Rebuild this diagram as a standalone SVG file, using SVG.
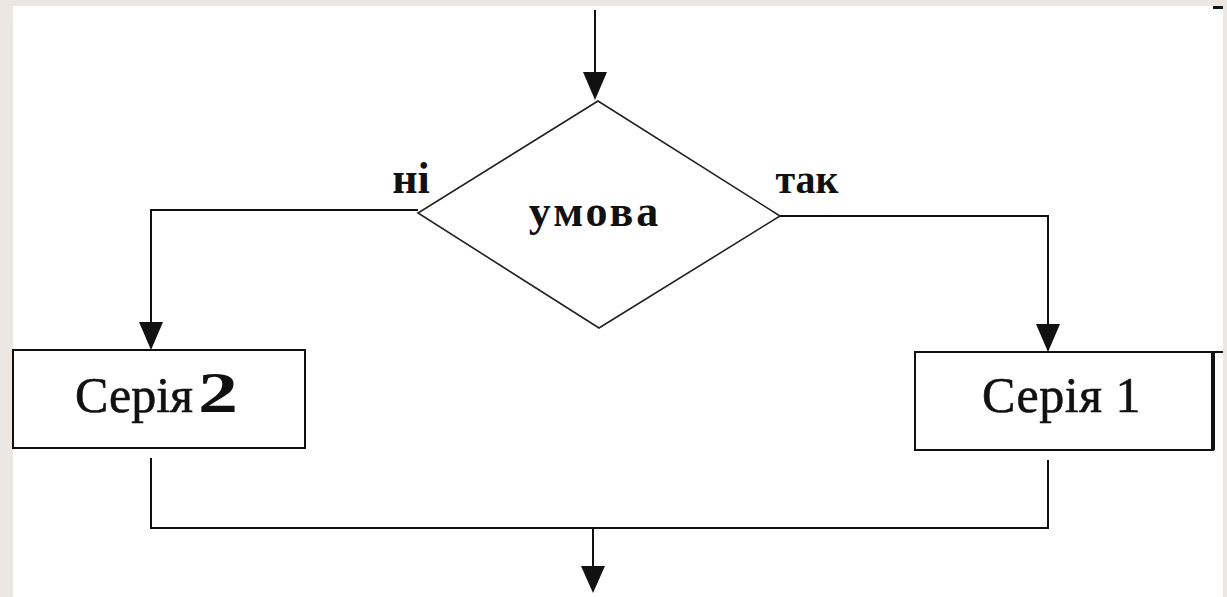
<svg xmlns="http://www.w3.org/2000/svg" width="1227" height="597" viewBox="0 0 1227 597">
<style>
.ln{fill:none;stroke:#111;stroke-width:2}
.box{fill:#fff;stroke:#111;stroke-width:2}
.lbl{font-family:"Liberation Serif",serif;font-weight:bold;fill:#111}
.txt{font-family:"Liberation Serif",serif;fill:#111;stroke:#111;stroke-width:0.6}
.ah{fill:#111}
</style>
<rect x="0" y="0" width="1227" height="597" fill="#ece7e3"/>
<rect x="13" y="6" width="1210" height="591" fill="#fff"/>
<rect x="1213" y="6" width="10" height="3" fill="#111"/>
<g id="connectors">
<path class="ln" d="M595 10 V78"/>
<polygon class="ah" points="583,72 607,72 595,100"/>
<path class="ln" d="M418 210 H151 V326"/>
<polygon class="ah" points="139,322 163,322 151,350"/>
<path class="ln" d="M780 216 H1048 V328"/>
<polygon class="ah" points="1036,324 1060,324 1048,352"/>
<path class="ln" d="M151 458 V528 H1048 V460"/>
<path class="ln" d="M593 528 V572"/>
<polygon class="ah" points="581,566 605,566 593,593"/>
</g>
<g id="decision">
<polygon points="598,101 418,213 599,328 780,216" fill="#fff" stroke="#222" stroke-width="1.6"/>
<text class="lbl" x="595" y="226" font-size="44" text-anchor="middle" letter-spacing="3">умова</text>
</g>
<g id="label-no"><text class="lbl" x="411" y="193" font-size="44" text-anchor="middle">ні</text></g>
<g id="label-yes"><text class="lbl" x="807" y="193" font-size="40" text-anchor="middle">так</text></g>
<g id="series2">
<rect class="box" x="13" y="350" width="292" height="98"/>
<text class="txt" x="75" y="412" font-size="50">Серія</text>
<text class="lbl" x="198" y="412" font-size="58" textLength="40" lengthAdjust="spacingAndGlyphs">2</text>
</g>
<g id="series1">
<rect class="box" x="915" y="352" width="298" height="98"/>
<path d="M1213 352 H1223" stroke="#111" stroke-width="2"/>
<rect x="1211" y="352" width="4" height="98" fill="#111"/>
<text class="txt" x="982" y="412" font-size="50" letter-spacing="0.5">Серія 1</text>
</g>
</svg>
